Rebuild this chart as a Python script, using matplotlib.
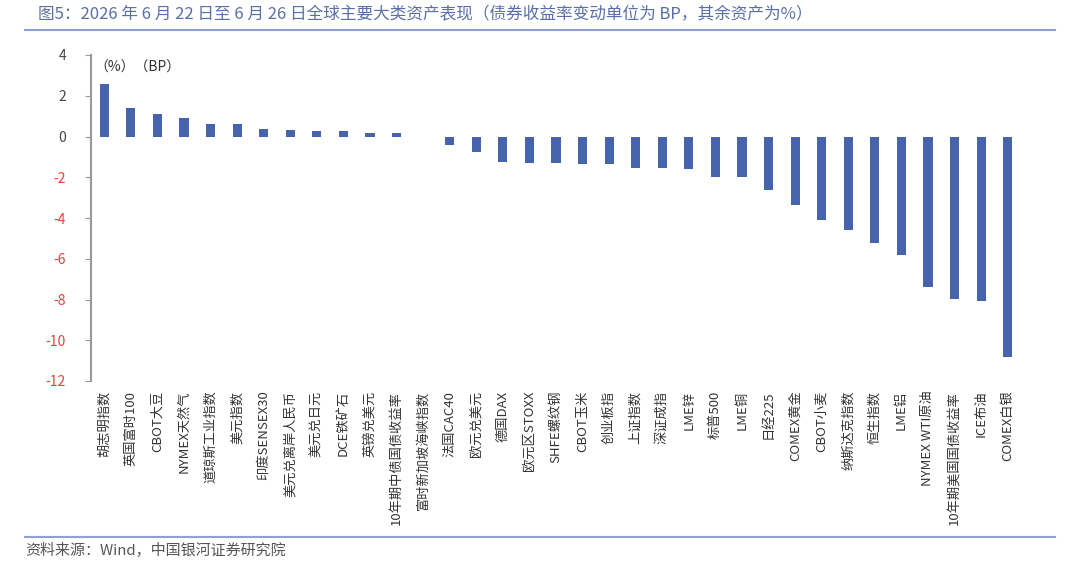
import matplotlib
matplotlib.use("Agg")
import matplotlib.pyplot as plt
from matplotlib.lines import Line2D

plt.rcParams['font.family'] = ['Noto Sans CJK SC', 'DejaVu Sans']

categories = ["胡志明指数", "英国富时100", "CBOT大豆", "NYMEX天然气", "道琼斯工业指数",
              "美元指数", "印度SENSEX30", "美元兑离岸人民币", "美元兑日元", "DCE铁矿石",
              "英镑兑美元", "10年期中债国债收益率", "富时新加坡海峡指数", "法国CAC40", "欧元兑美元",
              "德国DAX", "欧元区STOXX", "SHFE螺纹钢", "CBOT玉米", "创业板指",
              "上证指数", "深证成指", "LME锌", "标普500", "LME铜",
              "日经225", "COMEX黄金", "CBOT小麦", "纳斯达克指数", "恒生指数",
              "LME铝", "NYMEX WTI原油", "10年期美国国债收益率", "ICE布油", "COMEX白银"]
values = [2.59, 1.39, 1.08, 0.89, 0.63,
          0.60, 0.39, 0.34, 0.28, 0.28,
          0.18, 0.18, -0.02, -0.40, -0.76,
          -1.25, -1.32, -1.30, -1.33, -1.35,
          -1.54, -1.54, -1.60, -1.97, -2.01,
          -2.65, -3.37, -4.08, -4.60, -5.22,
          -5.83, -7.38, -7.98, -8.06, -10.80]
yticks = [4, 2, 0, -2, -4, -6, -8, -10, -12]

title = "图5：2026 年 6 月 22 日至 6 月 26 日全球主要大类资产表现（债券收益率变动单位为 BP，其余资产为%）"
source = "资料来源：Wind，中国银河证券研究院"

W, H = 1080, 567
fig = plt.figure(figsize=(W / 100, H / 100), dpi=100)
ax = fig.add_axes([91 / W, 1 - 381 / H, (1021 - 91) / W, (381 - 55) / H])

x = list(range(len(categories)))
ax.bar(x, values, width=0.34, color='#4664AC')
ax.set_xlim(-0.5, len(categories) - 0.5)
ax.set_ylim(-12, 4)
ax.set_yticks(yticks)
ax.set_yticklabels([str(v) for v in yticks], fontsize=10)
for lab, v in zip(ax.get_yticklabels(), yticks):
    lab.set_color('#f03c3c' if v < 0 else '#444444')
ax.set_xticks(x)
ax.set_xticklabels(categories, rotation=90, fontsize=9.5, color='#333333')
ax.tick_params(axis='x', length=0, pad=7)
ax.tick_params(axis='y', length=4, color='#999999', direction='out', pad=14)
for s in ['top', 'right', 'bottom']:
    ax.spines[s].set_visible(False)
ax.spines['left'].set_color('#999999')
ax.spines['left'].set_linewidth(1.5)

ax.text(0.004, 0.962, "（%）（BP）", transform=ax.transAxes, fontsize=10,
        color='#333333', va='center', ha='left')

fig.text(38 / W, 1 - 15 / H, title, fontsize=12, color='#5a6fa5', va='center', ha='left')
fig.add_artist(Line2D([25 / W, 1055 / W], [1 - 30 / H, 1 - 30 / H], color='#8fa2cf', lw=1.5,
                      transform=fig.transFigure))
fig.add_artist(Line2D([25 / W, 1055 / W], [1 - 537 / H, 1 - 537 / H], color='#8fa2cf', lw=1.5,
                      transform=fig.transFigure))
fig.text(25 / W, 1 - 551 / H, source, fontsize=10.8, color='#555555', style='italic',
         va='center', ha='left')

fig.savefig("out.png", dpi=100)
